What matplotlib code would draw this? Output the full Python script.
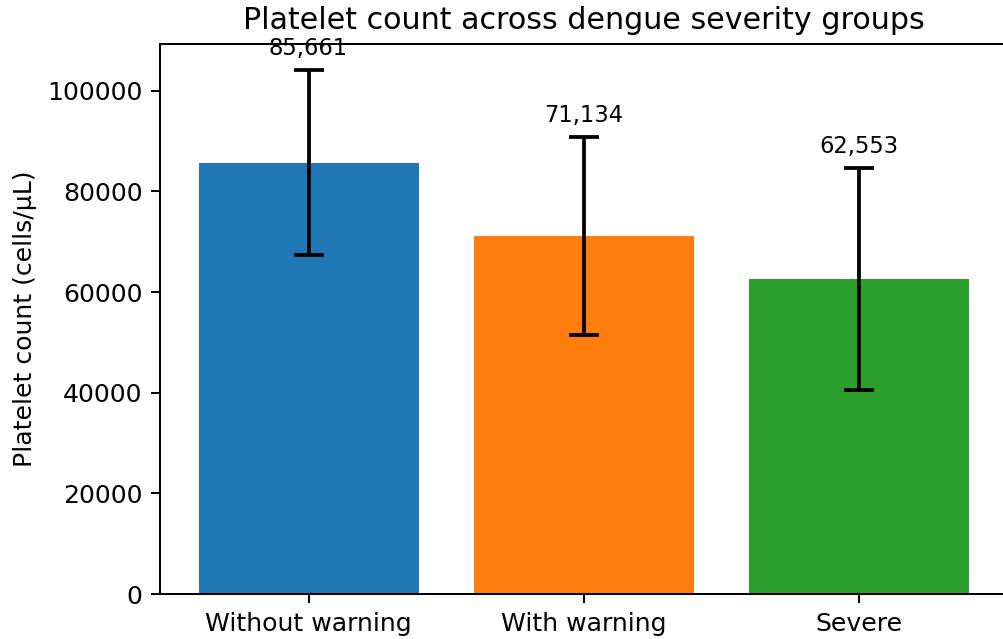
import numpy as np
import matplotlib
matplotlib.use("Agg")
import matplotlib.pyplot as plt

groups = ["Without warning", "With warning", "Severe"]
means = [85661, 71134, 62553]
sds = [18400, 19700, 22100]
colors = ["#1f77b4", "#ff7f0e", "#2ca02c"]

dpi = 181
fig = plt.figure(figsize=(1004 / dpi, 639 / dpi), dpi=dpi)
ax = fig.add_axes([0.1594, 0.0704, 0.8436, 0.8607])

x = np.arange(len(groups))
ax.bar(x, means, yerr=sds, color=colors, width=0.8, capsize=6,
       error_kw=dict(elinewidth=1.5, capthick=1.5, ecolor="black"))

for xi, m, s in zip(x, means, sds):
    ax.annotate(f"{m:,}", (xi, m + s), xytext=(0, 4), textcoords="offset points",
                ha="center", va="bottom", fontsize=9)

ax.set_xticks(x)
ax.set_xticklabels(groups)
ax.set_ylabel("Platelet count (cells/µL)")
ax.set_title("Platelet count across dengue severity groups", fontsize=12)

fig.savefig("out.png", dpi=dpi)
